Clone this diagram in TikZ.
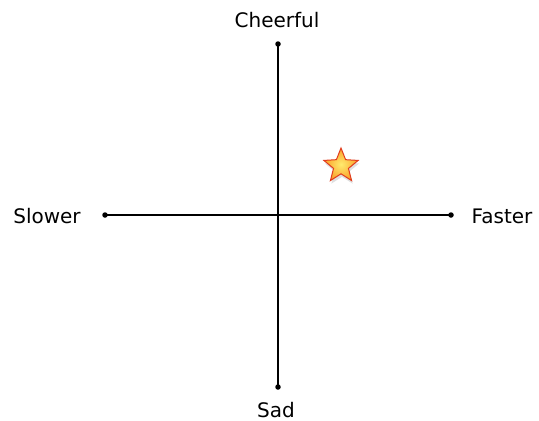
\documentclass[tikz,border=0pt]{standalone}
\usepackage{fontspec}
\setmainfont{DejaVu Sans}
\usetikzlibrary{shapes.geometric,shadows}
\begin{document}
\begin{tikzpicture}[x=1pt,y=-1pt,
  axis/.style={line width=1.8pt,black},
  dot/.style={circle,fill=black,inner sep=0pt,minimum size=5.5pt},
  lbl/.style={font=\fontsize{20}{23}\selectfont,inner sep=0pt},
  starnode/.style={star,star points=5,star point ratio=2.3,minimum size=36pt,inner sep=0pt,
     draw={rgb,255:red,225;green,60;blue,30},line width=1pt,
     inner color={rgb,255:red,255;green,235;blue,110},outer color={rgb,255:red,250;green,160;blue,40},
     drop shadow={opacity=0.25,shadow xshift=1pt,shadow yshift=-3pt}}]
\useasboundingbox (0,0) rectangle (539,421);
\fill[white] (0,0) rectangle (539,421);
\node[dot] (top) at (278,44) {};
\node[dot] (bot) at (278,387) {};
\node[dot] (left) at (105,215) {};
\node[dot] (right) at (451,215) {};
\draw[axis] (top.center) -- (bot.center);
\draw[axis] (left.center) -- (right.center);
\node[lbl] (cheer) at (277,20) {Cheerful};
\node[lbl] (sad) at (276,410) {Sad};
\node[lbl] (slow) at (47,216) {Slower};
\node[lbl] (fast) at (502,216) {Faster};
\node[starnode] (st) at (341,166) {};
\end{tikzpicture}
\end{document}
